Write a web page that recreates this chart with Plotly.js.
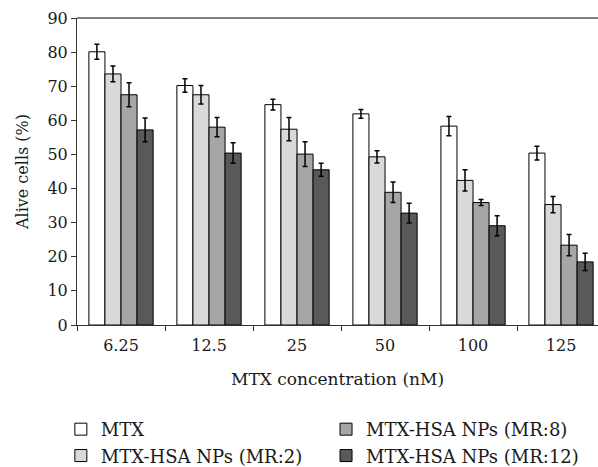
<!DOCTYPE html>
<html>
<head>
<meta charset="utf-8">
<script src="https://cdn.plot.ly/plotly-3.0.1.min.js"></script>
<style>html,body{margin:0;padding:0;background:#fff;}#chart{width:598px;height:467px;}</style>
</head>
<body>
<div id="chart"></div>
<script>
const categories = ["6.25", "12.5", "25", "50", "100", "125"];
const seriesNames = ["MTX", "MTX-HSA NPs (MR:2)", "MTX-HSA NPs (MR:8)", "MTX-HSA NPs (MR:12)"];
const mtx = [80.1, 70.2, 64.6, 61.9, 58.3, 50.4];
const mtxErr = [2.2, 2.0, 1.6, 1.3, 2.8, 2.0];
const mr2 = [73.6, 67.5, 57.4, 49.3, 42.4, 35.3];
const mr2Err = [2.3, 2.7, 3.4, 1.8, 3.1, 2.4];
const mr8 = [67.5, 58.0, 50.1, 38.9, 35.9, 23.4];
const mr8Err = [3.5, 2.8, 3.6, 3.0, 0.9, 3.1];
const mr12 = [57.2, 50.4, 45.5, 32.8, 29.1, 18.5];
const mr12Err = [3.5, 3.0, 1.9, 2.9, 2.9, 2.5];

const values = [mtx, mr2, mr8, mr12];
const errors = [mtxErr, mr2Err, mr8Err, mr12Err];
const colors = ["#ffffff", "#d9d9d9", "#a6a6a6", "#595959"];
const legendIds = ["legend", "legend", "legend2", "legend2"];

const font = "'DejaVu Serif', 'Liberation Serif', serif";
const txt = "#1a1a1a";

const traces = values.map((v, i) => ({
  type: "bar",
  name: seriesNames[i],
  x: categories,
  y: v,
  legend: legendIds[i],
  legendgroup: "g" + i,
  marker: {color: colors[i], line: {color: "#000", width: 1}},
  error_y: {type: "data", array: errors[i], visible: true, color: "#000", thickness: 1.5, width: 2.5}
}));

const legendCommon = {
  xanchor: "left", yanchor: "top", orientation: "v",
  font: {family: font, size: 18, color: txt},
  traceorder: "grouped", tracegroupgap: 0, itemclick: false, bgcolor: "rgba(0,0,0,0)"
};

const layout = {
  width: 598, height: 467,
  margin: {l: 77, r: 0, t: 18, b: 142, autoexpand: false},
  paper_bgcolor: "#fff", plot_bgcolor: "#fff",
  font: {family: font, size: 16, color: txt},
  barmode: "group", bargap: 0.27, bargroupgap: 0,
  showlegend: true,
  xaxis: {
    type: "category",
    range: [-0.5, 5.42],
    automargin: false,
    showline: true, linecolor: "#333", linewidth: 1,
    ticks: "outside", tickson: "boundaries", ticklen: 5, tickcolor: "#333",
    ticklabelstandoff: 6,
    showgrid: false, zeroline: false,
    tickfont: {family: font, size: 16, color: txt},
    title: {text: "MTX concentration (nM)", standoff: 18, font: {family: font, size: 17, color: txt}}
  },
  yaxis: {
    range: [0, 90], dtick: 10,
    automargin: false,
    showline: true, linecolor: "#333", linewidth: 1,
    ticks: "outside", ticklen: 5, tickcolor: "#333",
    showgrid: false, zeroline: false,
    tickfont: {family: font, size: 16, color: txt},
    title: {text: "Alive cells (%)", standoff: 14, font: {family: font, size: 16, color: txt}}
  },
  shapes: [{type: "line", xref: "paper", yref: "paper", x0: 0, x1: 1, y0: 1, y1: 1, line: {color: "#555", width: 1.5}}],
  legend: Object.assign({x: -0.031, y: -0.28}, legendCommon),
  legend2: Object.assign({x: 0.478, y: -0.28}, legendCommon)
};

Plotly.newPlot("chart", traces, layout, {displayModeBar: false, staticPlot: true});
</script>
</body>
</html>
